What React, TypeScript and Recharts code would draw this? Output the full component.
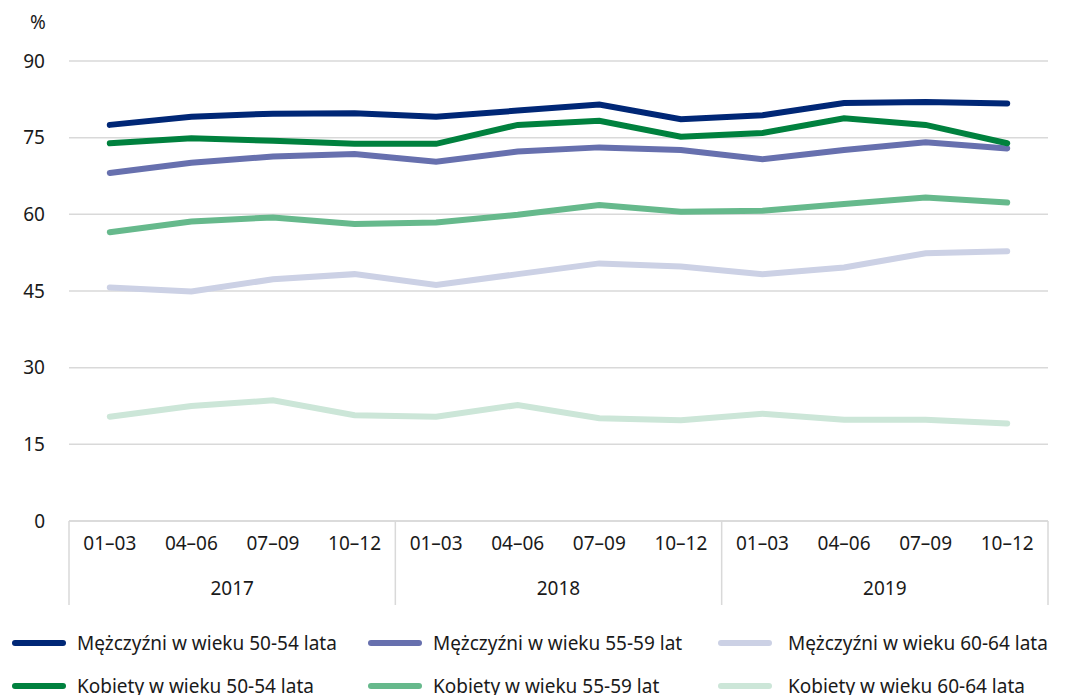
import { LineChart, Line, XAxis, YAxis, CartesianGrid } from 'recharts';

const YEARS = ['2017', '2018', '2019'];
const QUARTERS = ['01–03', '04–06', '07–09', '10–12'];

const men5054 = [77.5, 79.1, 79.7, 79.8, 79.1, 80.3, 81.5, 78.6, 79.4, 81.8, 82.0, 81.7];
const men5559 = [68.1, 70.1, 71.3, 71.8, 70.3, 72.3, 73.1, 72.6, 70.8, 72.6, 74.1, 72.9];
const men6064 = [45.7, 44.9, 47.3, 48.3, 46.2, 48.3, 50.4, 49.8, 48.3, 49.6, 52.4, 52.8];
const women5054 = [73.9, 74.9, 74.4, 73.8, 73.8, 77.5, 78.3, 75.2, 75.9, 78.8, 77.5, 73.9];
const women5559 = [56.5, 58.6, 59.4, 58.1, 58.4, 59.9, 61.8, 60.5, 60.7, 62.0, 63.3, 62.3];
const women6064 = [20.4, 22.5, 23.6, 20.7, 20.4, 22.7, 20.1, 19.7, 21.0, 19.8, 19.8, 19.1];

const Y_TICKS = [0, 15, 30, 45, 60, 75, 90];

const SERIES = [
  { key: 'm5054', name: 'Mężczyźni w wieku 50-54 lata', color: '#002776', values: men5054 },
  { key: 'm5559', name: 'Mężczyźni w wieku 55-59 lat', color: '#6770ae', values: men5559 },
  { key: 'm6064', name: 'Mężczyźni w wieku 60-64 lata', color: '#ccd1e5', values: men6064 },
  { key: 'k5054', name: 'Kobiety w wieku 50-54 lata', color: '#00813e', values: women5054 },
  { key: 'k5559', name: 'Kobiety w wieku 55-59 lat', color: '#66b98c', values: women5559 },
  { key: 'k6064', name: 'Kobiety w wieku 60-64 lata', color: '#cce6d8', values: women6064 },
];

const data = YEARS.flatMap((year, yi) =>
  QUARTERS.map((q, qi) => {
    const i = yi * 4 + qi;
    const row: any = { q, year };
    SERIES.forEach((s) => (row[s.key] = s.values[i]));
    return row;
  })
);

const W = 1069;
const H = 695;
const PLOT_LEFT = 69;
const PLOT_RIGHT = 1048;
const PLOT_BOTTOM = 521;
const BOX_BOTTOM = 605;
const FONT = '"Noto Sans", sans-serif';
const FS = 19;
const GRID = '#d9d9d9';
const TEXT = '#1a1a1a';

// width of one category slot; points sit in the middle of each slot
const band = (PLOT_RIGHT - PLOT_LEFT) / data.length;
const X_PAD = { left: band / 2, right: band / 2 };

// second row of the axis: year names + group separators
const YearTick = (props: any) => {
  const { x, index } = props;
  const row = data[index];
  return (
    <g>
      {index % 4 === 0 && (
        <line x1={x - band / 2} x2={x - band / 2} y1={PLOT_BOTTOM} y2={BOX_BOTTOM} stroke={GRID} strokeWidth={1.5} />
      )}
      {index === data.length - 1 && (
        <line x1={x + band / 2} x2={x + band / 2} y1={PLOT_BOTTOM} y2={BOX_BOTTOM} stroke={GRID} strokeWidth={1.5} />
      )}
      {index % 4 === 1 && (
        <text x={x + band / 2} y={588} textAnchor="middle" dominantBaseline="central" fill={TEXT} fontSize={FS} fontFamily={FONT}>
          {row.year}
        </text>
      )}
    </g>
  );
};

const legendCols = [12, 368, 718];

const ChartLegend = () => (
  <div style={{ position: 'absolute', left: 0, top: 630, width: W, height: 90, fontFamily: FONT, fontSize: FS, color: TEXT }}>
    {SERIES.map((s, i) => {
      const col = i % 3;
      const row = Math.floor(i / 3);
      const left = legendCols[col];
      const top = row * 43;
      return (
        <div key={s.key} style={{ position: 'absolute', left, top, height: 26, display: 'flex', alignItems: 'center', whiteSpace: 'nowrap' }}>
          <span style={{ display: 'inline-block', width: 54, height: 6, borderRadius: 3, background: s.color, marginRight: col === 2 ? 16 : 11 }} />
          <span>{s.name}</span>
        </div>
      );
    })}
  </div>
);

export default function App() {
  return (
    <div style={{ position: 'absolute', left: 0, top: 0, width: W, height: H, background: '#fff', overflow: 'hidden' }}>
      <div style={{ position: 'absolute', left: 30, top: 9, fontFamily: FONT, fontSize: FS, color: TEXT }}>%</div>
      <LineChart width={W} height={H} data={data} margin={{ top: 61, right: W - PLOT_RIGHT, left: 9, bottom: 90 }}>
        <CartesianGrid vertical={false} stroke={GRID} strokeWidth={1.5} />
        <XAxis
          dataKey="q"
          padding={X_PAD}
          interval={0}
          height={44}
          axisLine={{ stroke: GRID, strokeWidth: 1.5 }}
          tickLine={false}
          tickMargin={10}
          tick={{ fill: TEXT, fontSize: FS, fontFamily: FONT }}
        />
        <XAxis
          xAxisId="year"
          dataKey="q"
          padding={X_PAD}
          interval={0}
          height={40}
          axisLine={false}
          tickLine={false}
          tick={<YearTick />}
        />
        <YAxis
          width={60}
          domain={[0, 90]}
          ticks={Y_TICKS}
          axisLine={false}
          tickLine={false}
          tickMargin={18}
          tick={{ fill: TEXT, fontSize: FS, fontFamily: FONT }}
        />
        {SERIES.map((s) => (
          <Line
            key={s.key}
            dataKey={s.key}
            name={s.name}
            stroke={s.color}
            strokeWidth={6}
            strokeLinecap="round"
            dot={false}
            activeDot={false}
            type="linear"
            isAnimationActive={false}
          />
        ))}
      </LineChart>
      <ChartLegend />
    </div>
  );
}
